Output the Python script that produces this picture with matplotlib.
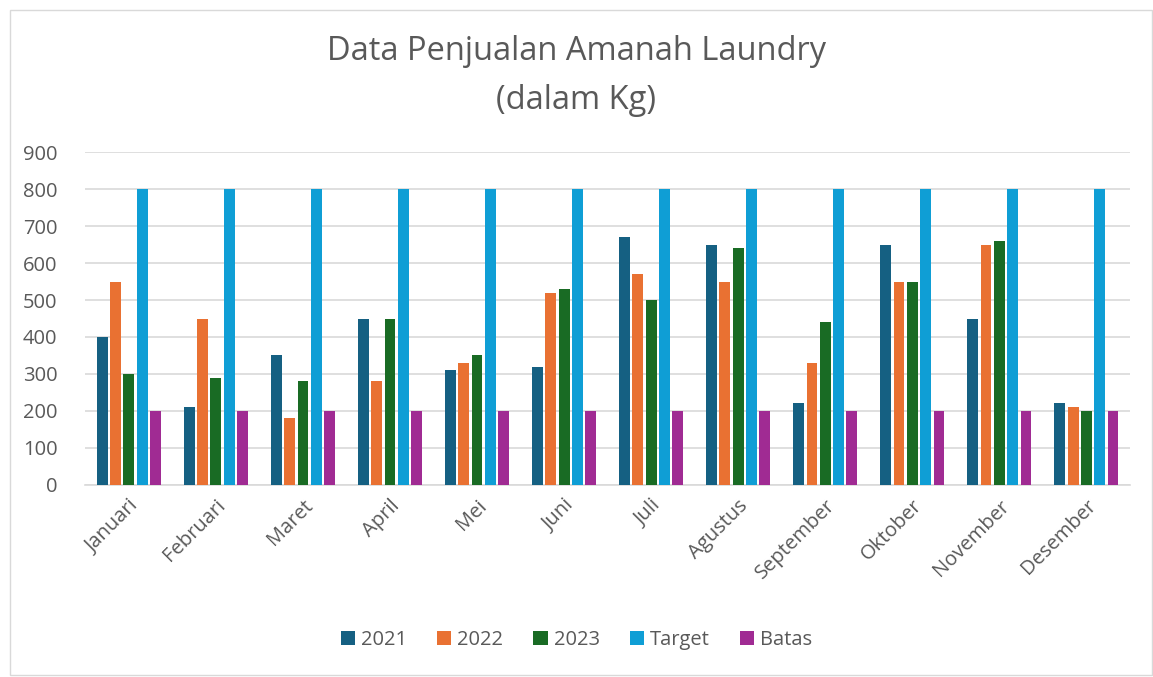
import numpy as np
import matplotlib
matplotlib.use("Agg")
import matplotlib.pyplot as plt
from matplotlib.patches import Rectangle

# Data
months = ["Januari", "Februari", "Maret", "April", "Mei", "Juni", "Juli",
          "Agustus", "September", "Oktober", "November", "Desember"]
sales_2021 = [400, 210, 350, 450, 310, 320, 670, 650, 220, 650, 450, 220]
sales_2022 = [550, 450, 180, 280, 330, 520, 570, 550, 330, 550, 650, 210]
sales_2023 = [300, 290, 280, 450, 350, 530, 500, 640, 440, 550, 660, 200]
target = [800] * 12
batas = [200] * 12
series_names = ["2021", "2022", "2023", "Target", "Batas"]
y_ticks = [0, 100, 200, 300, 400, 500, 600, 700, 800, 900]

colors = ["#156082", "#E97132", "#196B24", "#0F9ED5", "#A02B93"]
text_color = "#595959"

plt.rcParams['font.family'] = ['Open Sans', 'DejaVu Sans']

fig = plt.figure(figsize=(11.53, 6.77), dpi=100)
ax = fig.add_axes([0.074, 0.284, 0.906, 0.491])

x = np.arange(len(months))
step = 0.153
width = 0.125
all_series = [sales_2021, sales_2022, sales_2023, target, batas]
for i, (vals, name) in enumerate(zip(all_series, series_names)):
    ax.bar(x + (i - 2) * step, vals, width=width, color=colors[i],
           label=name, zorder=3)

ax.set_xlim(-0.5, len(months) - 0.5)
ax.set_ylim(0, 900)
ax.set_yticks(y_ticks)
ax.set_yticklabels([str(v) for v in y_ticks], fontsize=14.5, color=text_color)
ax.set_xticks(x)
ax.set_xticklabels(months, rotation=45, ha="right", rotation_mode="anchor",
                   fontsize=14.5, color=text_color)
ax.tick_params(axis="y", length=0, pad=20)
ax.tick_params(axis="x", length=0, pad=8)
ax.grid(axis="y", color="#D9D9D9", linewidth=1.2, zorder=0)
for s in ["top", "right", "left"]:
    ax.spines[s].set_visible(False)
ax.spines["bottom"].set_color("#D9D9D9")
ax.spines["bottom"].set_linewidth(1.2)

fig.text(0.5, 0.924, "Data Penjualan Amanah Laundry", ha="center", va="center",
         fontsize=23.5, color=text_color)
fig.text(0.5, 0.852, "(dalam Kg)", ha="center", va="center",
         fontsize=23.5, color=text_color)

fig.legend(loc="center", bbox_to_anchor=(0.5, 0.054), ncol=5, frameon=False,
           fontsize=14.5, labelcolor=text_color, handlelength=0.7,
           handleheight=0.7, handletextpad=0.3, columnspacing=1.5)

fig.patches.append(Rectangle((0.009, 0.003), 0.99, 0.982,
                             transform=fig.transFigure, fill=False,
                             edgecolor="#D9D9D9", linewidth=1))

fig.savefig("out.png", dpi=100)
